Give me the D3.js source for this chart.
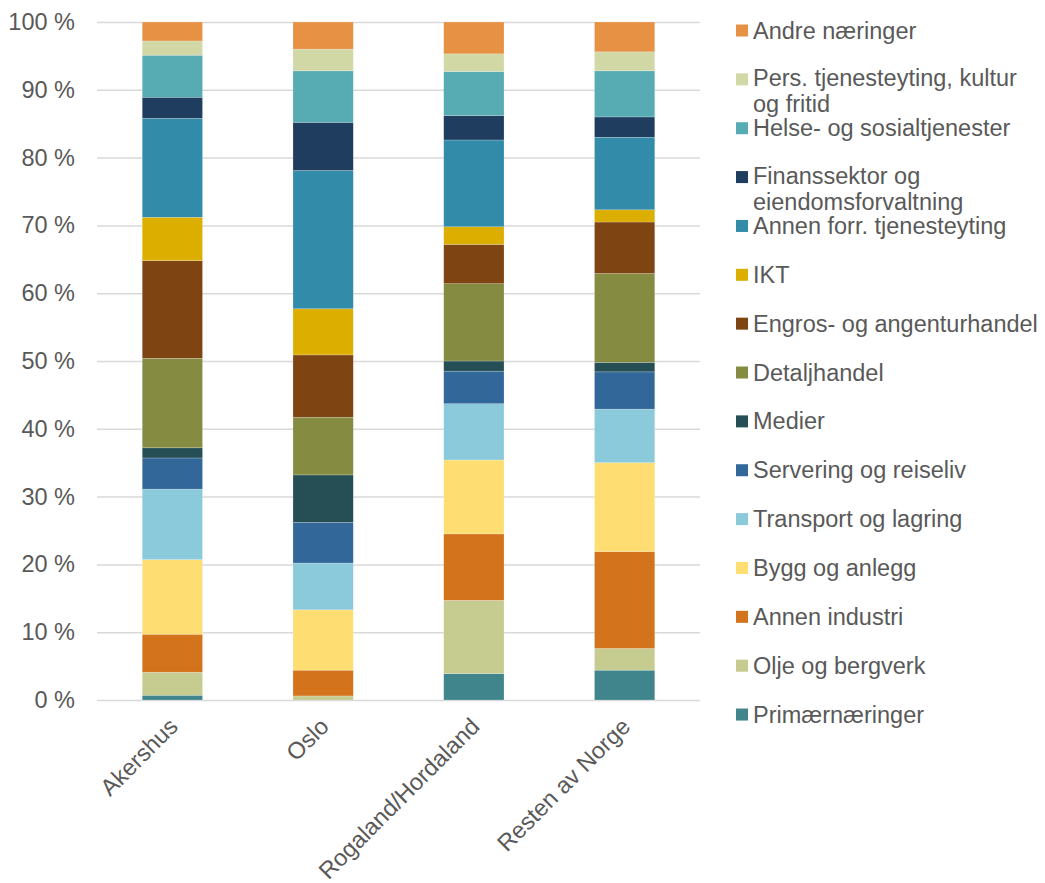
<!DOCTYPE html>
<html>
<head>
<meta charset="utf-8">
<script src="https://cdn.jsdelivr.net/npm/d3@7"></script>
<style>
  body { margin: 0; background: #fff; }
  text { font-family: "Liberation Sans", Arial, sans-serif; }
</style>
</head>
<body>
<svg id="chart"></svg>
<script>
const categories = ["Akershus", "Oslo", "Rogaland/Hordaland", "Resten av Norge"]

// series, bottom of the stack first
const seriesNames = [
  "Primærnæringer",
  "Olje og bergverk",
  "Annen industri",
  "Bygg og anlegg",
  "Transport og lagring",
  "Servering og reiseliv",
  "Medier",
  "Detaljhandel",
  "Engros- og angenturhandel",
  "IKT",
  "Annen forr. tjenesteyting",
  "Finanssektor og eiendomsforvaltning",
  "Helse- og sosialtjenester",
  "Pers. tjenesteyting, kultur og fritid",
  "Andre næringer",
]

// shares in percent, same order as seriesNames
const akershus = [0.7, 3.4, 5.6, 11.0, 10.4, 4.6, 1.5, 13.2, 14.4, 6.4, 14.6, 3.1, 6.2, 2.1, 2.8]
const oslo = [0.0, 0.6, 3.8, 8.9, 6.9, 6.0, 7.0, 8.5, 9.2, 6.8, 20.4, 7.1, 7.6, 3.2, 4.0]
const rogalandHordaland = [3.9, 10.8, 9.8, 10.9, 8.3, 4.8, 1.5, 11.4, 5.8, 2.6, 12.8, 3.6, 6.5, 2.6, 4.7]
const restenAvNorge = [4.4, 3.2, 14.3, 13.1, 7.9, 5.5, 1.4, 13.1, 7.6, 1.8, 10.7, 3.0, 6.8, 2.8, 4.4]

const colors = [
  "#3f858b", "#c6cb8f", "#d3731c", "#fede72", "#8bcadb",
  "#32679a", "#264f55", "#858c41", "#7e4512", "#dcae00",
  "#318ba9", "#1f3d5e", "#56acb2", "#d1d8a6", "#e69143",
]

const yTicks = [0, 10, 20, 30, 40, 50, 60, 70, 80, 90, 100]

const MARGIN = {top: 22, right: 345, bottom: 183, left: 97}
const WIDTH = 1045 - MARGIN.left - MARGIN.right
const HEIGHT = 883 - MARGIN.top - MARGIN.bottom
const TEXT = "#595959"
const FONT = "23.5px"

const values = [akershus, oslo, rogalandHordaland, restenAvNorge]
const rows = categories.map((c, i) => {
  const row = {category: c}
  seriesNames.forEach((s, j) => (row[s] = values[i][j]))
  return row
})

const svg = d3.select("#chart").attr("width", 1045).attr("height", 883)
const g = svg.append("g").attr("transform", `translate(${MARGIN.left},${MARGIN.top})`)

const x = d3.scaleBand().domain(categories).range([0, WIDTH]).paddingInner(0.6).paddingOuter(0.3)
const y = d3.scaleLinear().domain([0, 100]).range([HEIGHT, 0])
const color = d3.scaleOrdinal().domain(seriesNames).range(colors)

// gridlines + y labels
const yAxis = g
  .append("g")
  .call(
    d3.axisLeft(y)
      .tickValues(yTicks)
      .tickSize(-WIDTH)
      .tickPadding(22)
      .tickFormat((d) => `${d} %`)
  )
yAxis.select(".domain").remove()
yAxis.selectAll("line").attr("stroke", "#d9d9d9").attr("stroke-width", 1.5)
yAxis.selectAll("text").attr("fill", TEXT).style("font-size", FONT)

const stacked = d3.stack().keys(seriesNames)(rows)

g.append("g")
  .selectAll("g")
  .data(stacked)
  .enter()
  .append("g")
  .attr("fill", (d) => color(d.key))
  .selectAll("rect")
  .data((d) => d)
  .enter()
  .append("rect")
  .attr("x", (d) => x(d.data.category))
  .attr("y", (d) => y(d[1]))
  .attr("height", (d) => y(d[0]) - y(d[1]))
  .attr("width", x.bandwidth())
  .attr("stroke", "#ffffff")
  .attr("stroke-opacity", 0.35)
  .attr("stroke-width", 0.6)

// x labels, rotated
const xAxis = g
  .append("g")
  .attr("transform", `translate(0,${HEIGHT})`)
  .call(d3.axisBottom(x).tickSize(0))
xAxis.select(".domain").remove()
xAxis
  .selectAll("text")
  .attr("fill", TEXT)
  .style("font-size", FONT)
  .attr("x", 0)
  .attr("y", 0)
  .attr("dy", 0)
  .attr("text-anchor", "end")
  .attr("transform", "translate(7,28) rotate(-45)")

// legend, top item is last series
const legend = svg.append("g").attr("transform", "translate(736,30.5)")
const legendStep = 48.86
const legendItems = seriesNames.slice().reverse()
legendItems.forEach((name, i) => {
  const item = legend.append("g").attr("transform", `translate(0,${i * legendStep})`)
  item.append("rect")
    .attr("x", 0)
    .attr("y", -6)
    .attr("width", 12)
    .attr("height", 12)
    .attr("fill", color(name))
  const t = item.append("text")
    .attr("x", 17)
    .attr("y", 8)
    .attr("fill", TEXT)
    .style("font-size", FONT)
  // wrap long labels like Excel does
  const words = name.split(" ")
  let line = []
  let tspan = t.append("tspan").attr("x", 17)
  let lineNo = 0
  words.forEach((w) => {
    line.push(w)
    tspan.text(line.join(" "))
    if (tspan.node().getComputedTextLength() > 290 && line.length > 1) {
      line.pop()
      tspan.text(line.join(" "))
      line = [w]
      lineNo++
      tspan = t.append("tspan").attr("x", 17).attr("dy", 26).text(w)
    }
  })
  if (lineNo > 0) t.attr("y", 7)
})
</script>
</body>
</html>
